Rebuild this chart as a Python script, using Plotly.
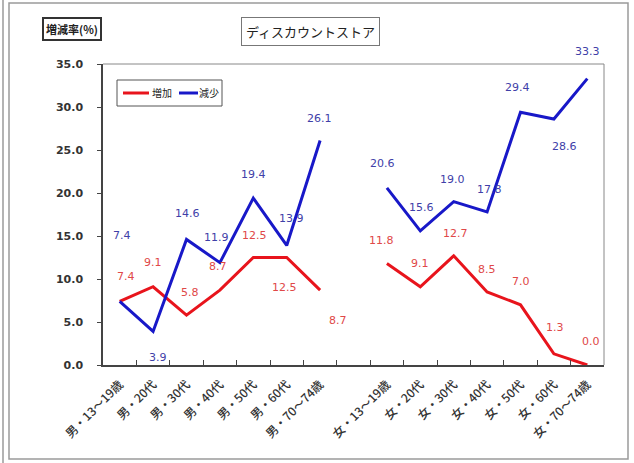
import plotly.graph_objects as go

# Categories (a blank slot separates the male and female groups)
categories = ["男・13～19歳", "男・20代", "男・30代", "男・40代", "男・50代", "男・60代", "男・70～74歳",
              " ",
              "女・13～19歳", "女・20代", "女・30代", "女・40代", "女・50代", "女・60代", "女・70～74歳"]

increase = [7.4, 9.1, 5.8, 8.7, 12.5, 12.5, 8.7, None, 11.8, 9.1, 12.7, 8.5, 7.0, 1.3, 0.0]
decrease = [7.4, 3.9, 14.6, 11.9, 19.4, 13.9, 26.1, None, 20.6, 15.6, 19.0, 17.8, 29.4, 28.6, 33.3]

series_names = ["増加", "減少"]
y_ticks = [0, 5, 10, 15, 20, 25, 30, 35]

# Pixel offsets of each data label from its point (dx, dy with dy upward)
inc_label_shift = [(6, 25), (0, 24), (3, 23), (-2, 24), (1, 22), (-2, -30), (18, -30), None,
                   (-5, 23), (0, 23), (2, 22), (0, 22), (0, 23), (1, 26), (4, 24)]
dec_label_shift = [(2, 66), (5, -26), (1, 26), (-3, 25), (0, 24), (5, 27), (-1, 22), None,
                   (-4, 24), (1, 23), (-1, 22), (2, 22), (-3, 25), (11, -27), (0, 27)]

RED_LINE = "#e8141c"
BLUE_LINE = "#1818c8"
RED_TEXT = "#e04848"
BLUE_TEXT = "#4040a8"

W, H = 634, 463
ML, MR, MT, MB = 103, 30, 64, 98
PW, PH = W - ML - MR, H - MT - MB


def px_x(px):
    return (px - ML) / PW


def px_y(py):
    return (H - MB - py) / PH


fig = go.Figure()
fig.add_trace(go.Scatter(x=categories, y=increase, mode="lines", name=series_names[0],
                         line=dict(color=RED_LINE, width=3), connectgaps=False))
fig.add_trace(go.Scatter(x=categories, y=decrease, mode="lines", name=series_names[1],
                         line=dict(color=BLUE_LINE, width=3), connectgaps=False))

annotations = []
for vals, shifts, color in [(increase, inc_label_shift, RED_TEXT), (decrease, dec_label_shift, BLUE_TEXT)]:
    for cat, v, s in zip(categories, vals, shifts):
        if v is None:
            continue
        annotations.append(dict(x=cat, y=v, xref="x", yref="y", text=f"{v:.1f}",
                                showarrow=False, xshift=s[0], yshift=s[1],
                                font=dict(size=11, color=color, family="DejaVu Sans")))

# Boxed captions above the plot
annotations.append(dict(x=px_x(72), y=px_y(29), xref="paper", yref="paper", text="<b>増減率(%)</b>",
                        xanchor="center", yanchor="middle",
                        showarrow=False, font=dict(size=11, color="#222", family="Noto Sans CJK JP"),
                        bordercolor="#333", borderwidth=2, borderpad=2, bgcolor="white"))
annotations.append(dict(x=px_x(310), y=px_y(32), xref="paper", yref="paper", text="ディスカウントストア",
                        xanchor="center", yanchor="middle",
                        showarrow=False, font=dict(size=13, color="#222", family="Noto Sans CJK JP"),
                        bordercolor="#777", borderwidth=1, borderpad=4, bgcolor="white"))

shapes = [
    dict(type="rect", xref="paper", yref="paper", x0=px_x(9), x1=px_x(628), y0=px_y(459), y1=px_y(3),
         line=dict(color="#9a9a9a", width=1.5), layer="below"),
    dict(type="line", xref="paper", yref="paper", x0=px_x(3), x1=px_x(3), y0=px_y(463), y1=px_y(0),
         line=dict(color="#9a9a9a", width=1.5)),
    # Thin frame on the top and right of the plot area
    dict(type="line", xref="paper", yref="paper", x0=0, x1=1, y0=1, y1=1,
         line=dict(color="#888", width=1)),
    dict(type="line", xref="paper", yref="paper", x0=1, x1=1, y0=0, y1=1,
         line=dict(color="#888", width=1)),
]

# Compact boxed legend: a short line sample followed by the series name
legend_box = (117, 80, 222, 106)
shapes.append(dict(type="rect", xref="paper", yref="paper",
                   x0=px_x(legend_box[0]), x1=px_x(legend_box[2]),
                   y0=px_y(legend_box[3]), y1=px_y(legend_box[1]),
                   line=dict(color="#555", width=1), fillcolor="white", layer="above"))
legend_y = 93
for (x0, x1, tx), name, color in zip([(123, 149, 162), (179, 198, 209)], series_names,
                                     [RED_LINE, BLUE_LINE]):
    shapes.append(dict(type="line", xref="paper", yref="paper", x0=px_x(x0), x1=px_x(x1),
                       y0=px_y(legend_y), y1=px_y(legend_y), line=dict(color=color, width=3),
                       layer="above"))
    annotations.append(dict(x=px_x(tx), y=px_y(legend_y), xref="paper", yref="paper", text=name,
                            xanchor="center", yanchor="middle", showarrow=False,
                            font=dict(size=10, color="#222", family="Noto Sans CJK JP")))

fig.update_layout(
    width=W, height=H,
    margin=dict(l=ML, r=MR, t=MT, b=MB),
    paper_bgcolor="white", plot_bgcolor="white",
    showlegend=False,
    annotations=annotations,
    shapes=shapes,
    xaxis=dict(type="category", categoryorder="array", categoryarray=categories,
               tickangle=-45, tickson="boundaries", ticks="inside", ticklen=5,
               tickcolor="#444", showline=True, linecolor="#444", linewidth=1.5, mirror=False,
               showgrid=False, range=[-0.5, 14.5], ticklabelstandoff=6,
               tickfont=dict(size=12, color="#333", family="Noto Sans CJK JP", weight=500)),
    yaxis=dict(range=[0, 35], tickvals=y_ticks, ticktext=[f"{t:.1f}" for t in y_ticks],
               ticks="outside", ticklen=4, tickcolor="#444", showline=True, linecolor="#444",
               linewidth=1.5, showgrid=False, zeroline=False, ticklabelstandoff=12,
               tickfont=dict(size=11, color="#333", family="DejaVu Sans", weight="bold")),
)

fig.write_html("out.html")
